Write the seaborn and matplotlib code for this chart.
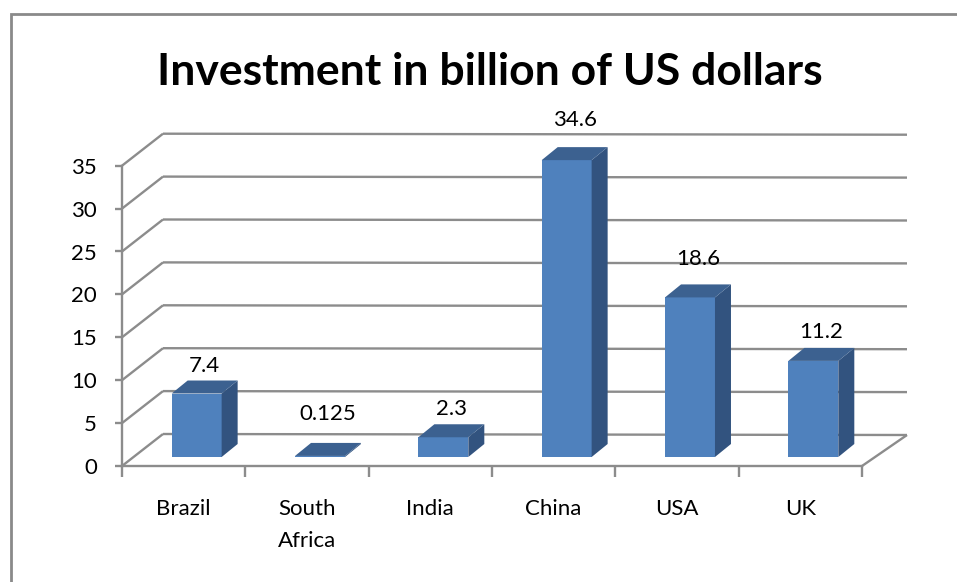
import matplotlib
matplotlib.use("Agg")
import matplotlib.pyplot as plt
import matplotlib.patches as mpatches
import seaborn as sns

countries = ["Brazil", "South\nAfrica", "India", "China", "USA", "UK"]
investment = [7.4, 0.125, 2.3, 34.6, 18.6, 11.2]
value_labels = ["7.4", "0.125", "2.3", "34.6", "18.6", "11.2"]
y_ticks = [0, 5, 10, 15, 20, 25, 30, 35]

# extra space (px) between each bar's top and its value label
label_gap_px = [15, 29, 15, 27, 25, 16]

FRONT = "#4F81BD"
TOP = "#3C6190"
SIDE = "#32537F"
GRID = "#8C8C8C"

W, H, DPI = 957, 582, 100
sns.set_theme(style="white")
plt.rcParams["font.family"] = ["Lato", "DejaVu Sans"]

fig = plt.figure(figsize=(W / DPI, H / DPI), dpi=DPI)
# front plane of the 3-D box, in pixel coordinates
x0, x1, y0, y1 = 122, 862, 466, 165.7
ax = fig.add_axes([x0 / W, 1 - y0 / H, (x1 - x0) / W, (y0 - y1) / H])
ax.set_xlim(-0.5, 5.5)
ax.set_ylim(0, 35)

px_x = (x1 - x0) / 6.0
px_y = (y0 - y1) / 35.0


def dx(px):
    return px / px_x


def dy(px):
    return px / px_y


WALL_L = (41, 32)   # depth of the box at its left end
WALL_R = (45, 31)   # depth of the box at its right end
BAR_SHIFT = (13, 9)  # bar front faces sit inside the box
BAR_DEPTH = (16, 13)

line_kw = dict(color=GRID, lw=1.7, clip_on=False, solid_capstyle="butt", zorder=1)

# back wall gridlines and left wall diagonals
for v in y_ticks:
    ax.plot([-0.5, -0.5 + dx(WALL_L[0])], [v, v + dy(WALL_L[1])], **line_kw)
    ax.plot([-0.5 + dx(WALL_L[0]), 5.5 + dx(WALL_R[0])],
            [v + dy(WALL_L[1]), v + dy(WALL_R[1])], **line_kw)
# floor right edge
ax.plot([5.5, 5.5 + dx(WALL_R[0])], [0, dy(WALL_R[1])], **line_kw)

sns.barplot(x=countries, y=investment, color=FRONT, saturation=1,
            width=0.405, ax=ax, zorder=3)

sx, sy = dx(BAR_SHIFT[0]), dy(BAR_SHIFT[1])
ddx, ddy = dx(BAR_DEPTH[0]), dy(BAR_DEPTH[1])
for i, bar in enumerate(ax.patches):
    bar.set_x(bar.get_x() + sx)
    bar.set_y(bar.get_y() + sy)
    bar.set_edgecolor("none")
    bar.set_clip_on(False)
    bl = bar.get_x()
    br = bl + bar.get_width()
    b = bar.get_y()
    t = b + bar.get_height()
    side = mpatches.Polygon([(br, b), (br + ddx, b + ddy), (br + ddx, t + ddy), (br, t)],
                            closed=True, facecolor=SIDE, edgecolor="none",
                            clip_on=False, zorder=3)
    top = mpatches.Polygon([(bl, t), (br, t), (br + ddx, t + ddy), (bl + ddx, t + ddy)],
                           closed=True, facecolor=TOP, edgecolor="none",
                           clip_on=False, zorder=3)
    ax.add_patch(side)
    ax.add_patch(top)
    cx = (bl + br + ddx) / 2
    ax.text(cx, t + ddy + dy(label_gap_px[i]), value_labels[i], ha="center",
            va="center", fontsize=16, color="black", zorder=4)

# axes frame
for s in ["top", "right"]:
    ax.spines[s].set_visible(False)
for s in ["left", "bottom"]:
    ax.spines[s].set_color(GRID)
    ax.spines[s].set_linewidth(1.7)
    ax.spines[s].set_zorder(2)

ax.set_yticks(y_ticks)
ax.set_yticklabels([str(v) for v in y_ticks])
ax.tick_params(axis="y", which="major", left=True, length=5, width=1.7,
               color=GRID, pad=13, labelsize=16, labelcolor="black")
ax.set_xticks(range(len(countries)))
ax.set_xticklabels(countries)
ax.set_xticks([i - 0.5 for i in range(len(countries) + 1)], minor=True)
ax.tick_params(axis="x", which="major", bottom=False, length=0, pad=24,
               labelsize=16, labelcolor="black")
ax.tick_params(axis="x", which="minor", bottom=True, length=8, width=1.7,
               color=GRID)
for lab in ax.get_xticklabels():
    lab.set_linespacing(1.7)
ax.set_xlabel("")
ax.set_ylabel("")
ax.grid(False)

fig.text(0.512, 1 - 72 / H, "Investment in billion of US dollars",
         ha="center", va="center", fontsize=32, fontweight="bold", color="black")

border = mpatches.Rectangle((10.5 / W, -0.1), 1.2, 1.1 - 14 / H,
                            transform=fig.transFigure, fill=False,
                            edgecolor="#8A8A8A", lw=2.0, clip_on=False)
fig.patches.append(border)

fig.savefig("out.png", dpi=DPI)
